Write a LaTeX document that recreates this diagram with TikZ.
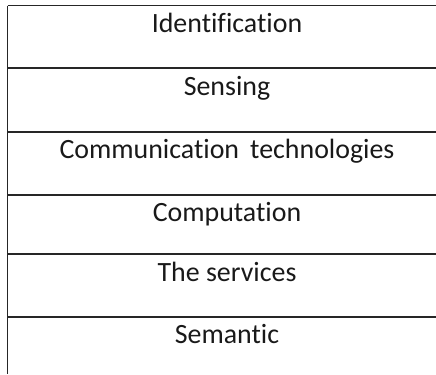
\documentclass[tikz,border=0pt]{standalone}
\usepackage{fontspec}
\setmainfont{Carlito}[Ligatures=NoCommon]
\begin{document}
\begin{tikzpicture}[x=1bp,y=-1bp,
  rowline/.style={line width=1.3bp,draw=black!85},
  rowtext/.style={anchor=base,inner sep=0pt,font=\fontsize{28}{32}\selectfont,text=black!90}]
\useasboundingbox (0,0) rectangle (436,374);
\draw[rowline,line width=1.8bp] (7.5,5.5) -- (7.5,374);
\foreach \y in {5.5,68,132,195,254,317}{
  \draw[rowline] (7.5,\y) -- (436,\y);
}
\node[rowtext] (r1) at (227,32.5) {Identification};
\node[rowtext] (r2) at (227,95) {Sensing};
\node[rowtext] (r3) at (227,158) {Communication\hspace{0.4em}technologies};
\node[rowtext] (r4) at (227,221.5) {Computation};
\node[rowtext] (r5) at (227,281.5) {The services};
\node[rowtext] (r6) at (227,343) {Semantic};
\end{tikzpicture}
\end{document}
